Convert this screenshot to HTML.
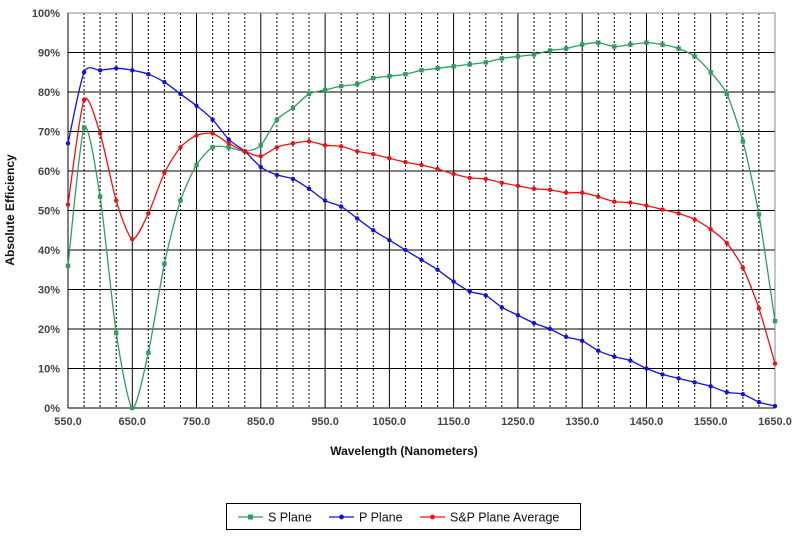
<!DOCTYPE html>
<html><head><meta charset="utf-8"><style>
body{margin:0;background:#fff;width:800px;height:536px;overflow:hidden}
svg{font-family:"Liberation Sans",Arial,sans-serif}
</style></head><body>
<svg id="s" width="800" height="536" xmlns="http://www.w3.org/2000/svg"></svg>
<script>
const S=[36,71,53.5,19,0,14,36.5,52.5,61.5,66,66,65,66.5,73,76,79.5,80.5,81.5,82,83.5,84,84.5,85.5,86,86.5,87,87.5,88.5,89,89.5,90.5,91,92,92.5,91.5,92,92.5,92,91,89,85,79.5,67.5,49,22];
const P=[67,85,85.5,86,85.5,84.5,82.5,79.5,76.5,73,68,65,61,59,58,55.5,52.5,51,48,45,42.5,40,37.5,35,32,29.5,28.5,25.5,23.5,21.5,20,18,17,14.5,13,12,10,8.5,7.5,6.5,5.5,4,3.5,1.5,0.5];
const A=S.map((v,i)=>(v+P[i])/2);
const L=68,R=775,T=13,B=408;
const X=w=>L+(w-550)*(R-L)/1100, Y=p=>B-p*(B-T)/100;
let h='';
for(let w=575;w<1650;w+=25){const x=X(w).toFixed(1);
 if((w-550)%100==0) h+=`<line x1="${x}" y1="${T}" x2="${x}" y2="${B}" stroke="#000" stroke-width="1"/>`;
 else h+=`<line x1="${x}" y1="${T}" x2="${x}" y2="${B}" stroke="#000" stroke-width="1" stroke-dasharray="2,2"/>`;}
for(let p=10;p<100;p+=10){const y=Y(p).toFixed(1);h+=`<line x1="${L}" y1="${y}" x2="${R}" y2="${y}" stroke="#000"/>`;}
h+=`<rect x="${L}" y="${T}" width="${R-L}" height="${B-T}" fill="none" stroke="#888"/>`;
h+=`<line x1="${L}" y1="${T}" x2="${L}" y2="${B}" stroke="#000"/><line x1="${L}" y1="${B}" x2="${R}" y2="${B}" stroke="#000"/>`;
for(let p=0;p<=100;p+=10){h+=`<text x="60" y="${Y(p)+4}" text-anchor="end" font-size="11" font-weight="bold" fill="#444">${p}%</text>`;}
for(let w=550;w<=1650;w+=100){h+=`<text x="${X(w)}" y="425" text-anchor="middle" font-size="11" font-weight="bold" fill="#444">${w}.0</text>`;}
function path(d){const pts=d.map((v,i)=>[X(550+25*i),Y(v)]);let s=`M${pts[0][0]},${pts[0][1]}`;const k=8;
 for(let i=0;i<pts.length-1;i++){const p0=pts[Math.max(0,i-1)],p1=pts[i],p2=pts[i+1],p3=pts[Math.min(pts.length-1,i+2)];
 const c1=[p1[0]+(p2[0]-p0[0])/k,p1[1]+(p2[1]-p0[1])/k],c2=[p2[0]-(p3[0]-p1[0])/k,p2[1]-(p3[1]-p1[1])/k];
 s+=`C${c1[0].toFixed(1)},${c1[1].toFixed(1)} ${c2[0].toFixed(1)},${c2[1].toFixed(1)} ${p2[0].toFixed(1)},${p2[1].toFixed(1)}`;}
 return [s,pts];}
function series(d,c,m){const [s,pts]=path(d);h+=`<path d="${s}" fill="none" stroke="${c}" stroke-width="1.3"/>`;
 pts.forEach(p=>{h+=m=='sq'?`<rect x="${p[0]-2.2}" y="${p[1]-2.2}" width="4.4" height="4.4" fill="${c}"/>`:`<circle cx="${p[0]}" cy="${p[1]}" r="2.2" fill="${c}"/>`;});}
series(S,'#2e9e62','sq');series(P,'#1010e0','c');series(A,'#f01010','c');
h+=`<text x="404" y="455" text-anchor="middle" font-size="12" font-weight="bold" fill="#111">Wavelength (Nanometers)</text>`;
h+=`<text transform="translate(14,210) rotate(-90)" text-anchor="middle" font-size="12" font-weight="bold" fill="#111">Absolute Efficiency</text>`;
h+=`<rect x="226.5" y="503.5" width="354" height="26" fill="#fff" stroke="#000"/>`;
h+=`<line x1="238" y1="517" x2="263" y2="517" stroke="#2e9e62" stroke-width="1.3"/><rect x="248" y="514.5" width="5" height="5" fill="#2e9e62"/><text x="268" y="521.5" font-size="12.5" fill="#111">S Plane</text>`;
h+=`<line x1="329" y1="517" x2="354" y2="517" stroke="#1010e0" stroke-width="1.3"/><circle cx="341.5" cy="517" r="2.4" fill="#1010e0"/><text x="359" y="521.5" font-size="12.5" fill="#111">P Plane</text>`;
h+=`<line x1="420" y1="517" x2="445" y2="517" stroke="#f01010" stroke-width="1.3"/><circle cx="432.5" cy="517" r="2.4" fill="#f01010"/><text x="450" y="521.5" font-size="12.5" fill="#111">S&amp;P Plane Average</text>`;
document.getElementById('s').innerHTML=h;
</script>
</body></html>
